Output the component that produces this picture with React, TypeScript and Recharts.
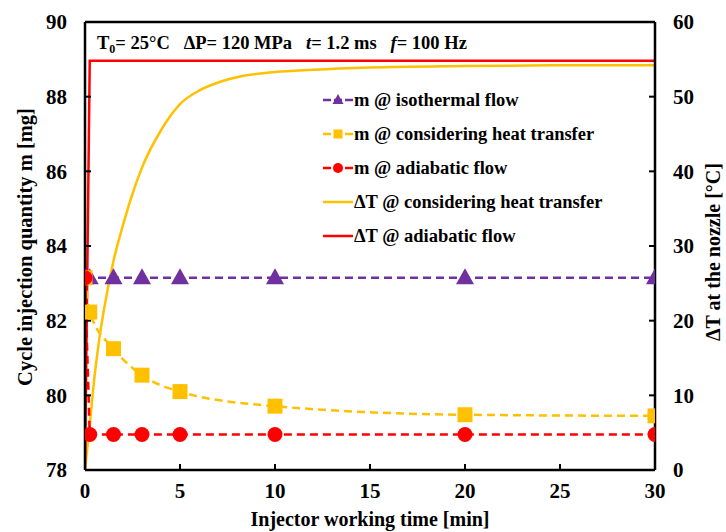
import React from 'react';
import { ComposedChart, Line, XAxis, YAxis, ReferenceLine } from 'recharts';

// injector working time [min] for the mass series
const timeMass = [0, 0.25, 1.5, 3, 5, 10, 20, 30];
// cycle injection quantity m [mg]
const massIsothermal = [83.15, 83.15, 83.15, 83.15, 83.15, 83.15, 83.15, 83.15];
const massHeatTransfer = [83.15, 82.23, 81.25, 80.54, 80.1, 79.71, 79.48, 79.45];
const massAdiabatic = [83.15, 78.95, 78.95, 78.95, 78.95, 78.95, 78.95, 78.95];

// ΔT at the nozzle [°C]
const timeDtHeat = [0, 0.25, 0.5, 0.75, 1, 1.5, 2, 2.5, 3, 4, 5, 6, 7, 8, 10, 12, 15, 20, 25, 30];
const dtHeatTransfer = [0, 6, 12.5, 17.5, 21.5, 28, 32.8, 37, 40.5, 45.5, 49, 50.8, 51.9, 52.6, 53.3, 53.6, 53.9, 54.1, 54.2, 54.2];
const timeDtAdia = [0, 0.25, 30];
const dtAdiabatic = [0, 54.8, 54.8];

const xTicks = [0, 5, 10, 15, 20, 25, 30];
const massTicks = [78, 80, 82, 84, 86, 88, 90];
const dtTicks = [0, 10, 20, 30, 40, 50, 60];

const legendLabels = [
  'm @ isothermal flow',
  'm @ considering heat transfer',
  'm @ adiabatic flow',
  'ΔT @ considering heat transfer',
  'ΔT @ adiabatic flow',
];

const PURPLE = '#7030A0';
const GOLD = '#FFC000';
const RED = '#FF0000';
const FONT = '"Liberation Serif", "Times New Roman", serif';

const zip = (xs: number[], ys: number[]) => xs.map((x, i) => ({ x, y: ys[i] }));

const isoData = zip(timeMass, massIsothermal);
const heatData = zip(timeMass, massHeatTransfer);
const adiaData = zip(timeMass, massAdiabatic);
const dtHeatData = zip(timeDtHeat, dtHeatTransfer);
const dtAdiaData = zip(timeDtAdia, dtAdiabatic);

const Triangle = (props: any) => {
  const { cx, cy, index } = props;
  return (
    <polygon
      key={`tri-${index}`}
      points={`${cx},${cy - 9.5} ${cx - 9},${cy + 6.5} ${cx + 9},${cy + 6.5}`}
      fill={PURPLE}
    />
  );
};

const Square = (props: any) => {
  const { cx, cy, index } = props;
  return <rect key={`sq-${index}`} x={cx - 7.5} y={cy - 7.5} width={15} height={15} fill={GOLD} />;
};

const Dot = (props: any) => {
  const { cx, cy, index } = props;
  return <circle key={`ci-${index}`} cx={cx} cy={cy} r={7.5} fill={RED} />;
};

// legend drawn as svg, rows 34px apart
const LEG_X = 323;
const LEG_Y = 100;
const legendIcon = (i: number, y: number) => {
  const colors = [PURPLE, GOLD, RED, GOLD, RED];
  const c = colors[i];
  const mid = LEG_X + 15;
  return (
    <g>
      <line
        x1={LEG_X}
        y1={y}
        x2={LEG_X + 30}
        y2={y}
        stroke={c}
        strokeWidth={2.5}
        strokeDasharray={i < 3 ? '8 3' : undefined}
      />
      {i === 0 && <polygon points={`${mid},${y - 6} ${mid - 5.5},${y + 4} ${mid + 5.5},${y + 4}`} fill={c} />}
      {i === 1 && <rect x={mid - 4.5} y={y - 4.5} width={9} height={9} fill={c} />}
      {i === 2 && <circle cx={mid} cy={y} r={5} fill={c} />}
    </g>
  );
};

const tickStyle = { fontFamily: FONT, fontWeight: 'bold', fontSize: 21, fill: '#000' };

export default function App() {
  return (
    <div
      style={{
        position: 'absolute',
        left: 0,
        top: 0,
        width: 726,
        height: 532,
        background: '#fff',
        fontFamily: FONT,
        fontWeight: 'bold',
      }}
    >
      <ComposedChart width={726} height={532} margin={{ top: 22, right: 0, bottom: 0, left: 0 }}>
        <XAxis
          xAxisId="t"
          type="number"
          dataKey="x"
          domain={[0, 30]}
          ticks={xTicks}
          allowDataOverflow
          height={62}
          tickSize={-6}
          tickMargin={19}
          tick={tickStyle}
          axisLine={{ stroke: '#000', strokeWidth: 2.5 }}
          tickLine={{ stroke: '#000', strokeWidth: 2 }}
        />
        <YAxis
          yAxisId="m"
          orientation="left"
          type="number"
          domain={[78, 90]}
          ticks={massTicks}
          allowDataOverflow
          width={85}
          tickSize={-6}
          tickMargin={24}
          tick={tickStyle}
          axisLine={{ stroke: '#000', strokeWidth: 2.5 }}
          tickLine={{ stroke: '#000', strokeWidth: 2 }}
        />
        <YAxis
          yAxisId="dt"
          orientation="right"
          type="number"
          domain={[0, 60]}
          ticks={dtTicks}
          allowDataOverflow
          width={71}
          tickSize={-6}
          tickMargin={24}
          tick={tickStyle}
          axisLine={{ stroke: '#000', strokeWidth: 2.5 }}
          tickLine={{ stroke: '#000', strokeWidth: 2 }}
        />
        <ReferenceLine xAxisId="t" yAxisId="m" y={90} stroke="#000" strokeWidth={2.5} />

        <Line
          xAxisId="t"
          yAxisId="dt"
          data={dtHeatData}
          dataKey="y"
          type="monotone"
          stroke={GOLD}
          strokeWidth={2.5}
          dot={false}
          isAnimationActive={false}
        />
        <Line
          xAxisId="t"
          yAxisId="dt"
          data={dtAdiaData}
          dataKey="y"
          type="linear"
          stroke={RED}
          strokeWidth={2.5}
          dot={false}
          isAnimationActive={false}
        />
        <Line
          xAxisId="t"
          yAxisId="m"
          data={isoData}
          dataKey="y"
          type="linear"
          stroke={PURPLE}
          strokeWidth={2.5}
          strokeDasharray="8 5"
          dot={Triangle}
          isAnimationActive={false}
        />
        <Line
          xAxisId="t"
          yAxisId="m"
          data={heatData}
          dataKey="y"
          type="monotone"
          stroke={GOLD}
          strokeWidth={2.5}
          strokeDasharray="8 5"
          dot={Square}
          isAnimationActive={false}
        />
        <Line
          xAxisId="t"
          yAxisId="m"
          data={adiaData}
          dataKey="y"
          type="linear"
          stroke={RED}
          strokeWidth={2.5}
          strokeDasharray="8 5"
          dot={Dot}
          isAnimationActive={false}
        />

        <g>
          {legendLabels.map((label, i) => (
            <g key={label}>
              {legendIcon(i, LEG_Y + i * 34)}
              <text
                x={LEG_X + 31}
                y={LEG_Y + i * 34}
                dominantBaseline="central"
                fontFamily={FONT}
                fontWeight="bold"
                fontSize={18.5}
                fill="#000"
              >
                {label}
              </text>
            </g>
          ))}
        </g>

        <text x={97} y={49} fontFamily={FONT} fontWeight="bold" fontSize={18.5} fill="#000" xmlSpace="preserve">
          <tspan>T</tspan>
          <tspan fontSize={12} dy={4}>0</tspan>
          <tspan dy={-4}>{'= 25°C   ΔP= 120 MPa   '}</tspan>
          <tspan fontStyle="italic">t</tspan>
          <tspan>{'= 1.2 ms   '}</tspan>
          <tspan fontStyle="italic">f</tspan>
          <tspan>{'= 100 Hz'}</tspan>
        </text>
        <text x={370} y={526} textAnchor="middle" fontFamily={FONT} fontWeight="bold" fontSize={20} fill="#000">
          Injector working time [min]
        </text>
        <text
          x={25}
          y={247}
          textAnchor="middle"
          dominantBaseline="central"
          transform="rotate(-90 25 247)"
          fontFamily={FONT}
          fontWeight="bold"
          fontSize={20.5}
          fill="#000"
        >
          Cycle injection quantity m [mg]
        </text>
        <text
          x={713}
          y={252}
          textAnchor="middle"
          dominantBaseline="central"
          transform="rotate(-90 713 252)"
          fontFamily={FONT}
          fontWeight="bold"
          fontSize={20}
          fill="#000"
        >
          ΔT at the nozzle [°C]
        </text>
      </ComposedChart>
    </div>
  );
}
